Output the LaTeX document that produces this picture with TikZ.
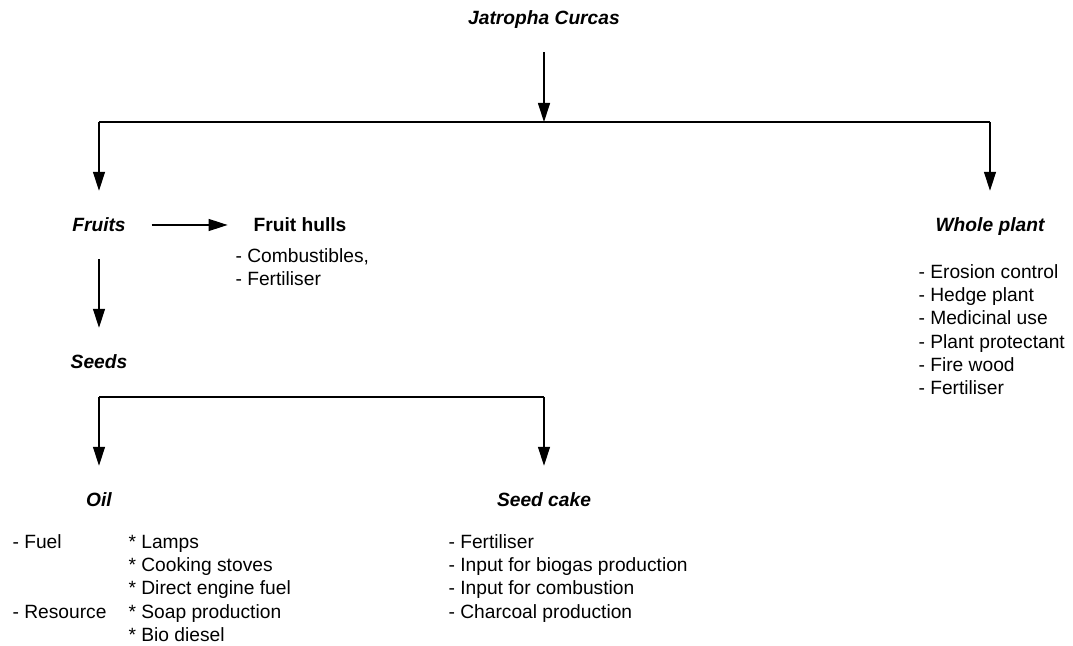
\documentclass[tikz,border=0pt]{standalone}
\usepackage{fontspec}
\setmainfont{Liberation Sans}
\usetikzlibrary{arrows.meta}
\begin{document}
\begin{tikzpicture}[x=0.5pt, y=-0.5pt, line width=0.6pt,
  head/.style = {font=\fontsize{9.6}{11.6}\selectfont\bfseries\itshape, inner sep=0pt, outer sep=13pt, text height=7.2pt, text depth=1pt},
  part/.style = {head, font=\fontsize{9.6}{11.6}\selectfont\bfseries},
  list/.style = {font=\fontsize{9.6}{11.6}\selectfont, inner sep=0pt, anchor=base west},
  arr/.style = {-{Triangle[length=9.5pt, width=6pt]}}]

	\useasboundingbox (0,0) rectangle (1073,646);

	\node[head] (jatropha) at (544,18) {Jatropha Curcas};
	\node[head] (fruits) at (99,225) {Fruits};
	\node[part] (hulls) at (300,225) {Fruit hulls};
	\node[head] (whole) at (990,225) {Whole plant};
	\node[head] (seeds) at (99,362) {Seeds};
	\node[head] (oil) at (99,500) {Oil};
	\node[head] (cake) at (544,500) {Seed cake};

	\coordinate (top) at (544,122);
	\coordinate (topl) at (99,122);
	\coordinate (topr) at (990,122);
	\coordinate (seedl) at (99,397);
	\coordinate (seedr) at (544,397);

	\node[list] (hullsuse) at (235,262.5) {\begin{tabular}[t]{@{}l@{}}- Combustibles,\\- Fertiliser\end{tabular}};
	\node[list] (wholeuse) at (918,278.5) {\begin{tabular}[t]{@{}l@{}}- Erosion control\\- Hedge plant\\- Medicinal use\\- Plant protectant\\- Fire wood\\- Fertiliser\end{tabular}};
	\node[list] (oiluse) at (12,548.5) {\begin{tabular}[t]{@{}p{58pt}@{}l@{}}- Fuel & * Lamps\\ & * Cooking stoves\\ & * Direct engine fuel\\- Resource & * Soap production\\ & * Bio diesel\end{tabular}};
	\node[list] (cakeuse) at (448,548.5) {\begin{tabular}[t]{@{}l@{}}- Fertiliser\\- Input for biogas production\\- Input for combustion\\- Charcoal production\end{tabular}};

	\draw[arr] (jatropha) -- (top);
	\draw (topl) -- (topr);
	\draw[arr] (topl) -- (fruits);
	\draw[arr] (topr) -- (whole);
	\draw[arr] (fruits) -- (hulls);
	\draw[arr] (fruits) -- (seeds);
	\draw (seedl) -- (seedr);
	\draw[arr] (seedl) -- (oil);
	\draw[arr] (seedr) -- (cake);
\end{tikzpicture}
\end{document}
